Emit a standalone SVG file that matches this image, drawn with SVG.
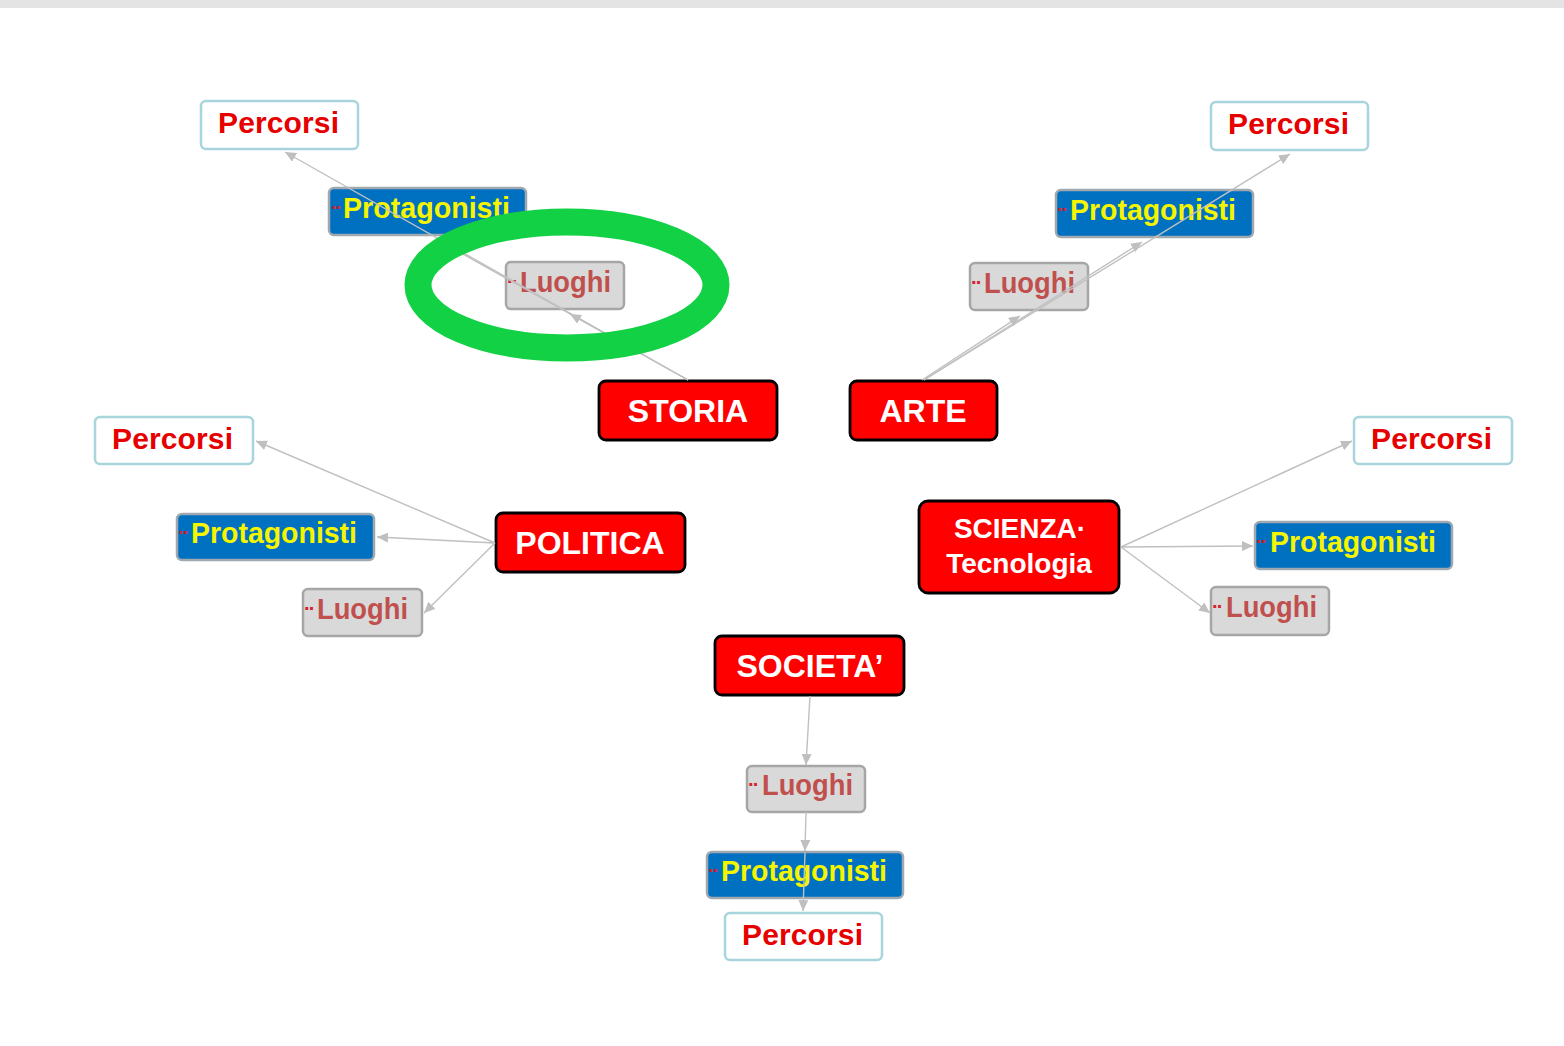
<svg xmlns="http://www.w3.org/2000/svg" width="1564" height="1046" viewBox="0 0 1564 1046">
<style>
.main rect{fill:#ff0000;stroke:#000;stroke-width:2.8}
.main text{font-family:"Liberation Sans",Arial,sans-serif;font-weight:bold;fill:#fff;text-anchor:middle}
.perc rect{fill:#fff;stroke:#a8d4dc;stroke-width:2.5}
.perc text{font-family:"Liberation Sans",Arial,sans-serif;font-weight:bold;fill:#e60000;font-size:30px}
.prot rect{fill:#0070c0;stroke:#a0a8b0;stroke-width:2.5}
.prot text.t{font-family:"Liberation Sans",Arial,sans-serif;font-weight:bold;fill:#f5f500;font-size:29px}
.luog rect{fill:#d9d9d9;stroke:#a6a6a6;stroke-width:2.5}
.luog text.t{font-family:"Liberation Sans",Arial,sans-serif;font-weight:bold;fill:#c0504d;font-size:29px}
text.d{font-family:"Liberation Sans",Arial,sans-serif;font-weight:bold;fill:#d8202e;font-size:20px;letter-spacing:-2px}
#connectors line{stroke:#c0c0c0;stroke-width:1.4;marker-end:url(#arr)}
</style>
<defs>
<marker id="arr" markerUnits="userSpaceOnUse" markerWidth="12" markerHeight="10" refX="11" refY="5" orient="auto">
<path d="M0,0 L11,5 L0,10 z" fill="#bfbfbf"/>
</marker>
</defs>
<rect x="0" y="0" width="1564" height="8" fill="#e4e4e4"/>

<!-- STORIA -->
<g id="storia" class="main"><rect x="599" y="381" width="178" height="59" rx="7"/><text x="688" y="422" font-size="32">STORIA</text></g>
<g id="storia-percorsi" class="perc"><rect x="201" y="101" width="157" height="48" rx="5"/><text x="218" y="133" textLength="121">Percorsi</text></g>
<g id="storia-protagonisti" class="prot"><rect x="329" y="188" width="197" height="47" rx="5"/><text class="d" x="331" y="214">··</text><text class="t" x="343" y="218" textLength="167" lengthAdjust="spacingAndGlyphs">Protagonisti</text></g>
<g id="storia-luoghi" class="luog"><rect x="506" y="262" width="118" height="47" rx="5"/><text class="d" x="507" y="288">··</text><text class="t" x="520" y="292" textLength="91" lengthAdjust="spacingAndGlyphs">Luoghi</text></g>

<!-- ARTE -->
<g id="arte" class="main"><rect x="850" y="381" width="147" height="59" rx="7"/><text x="923" y="422" font-size="32">ARTE</text></g>
<g id="arte-percorsi" class="perc"><rect x="1211" y="102" width="157" height="48" rx="5"/><text x="1228" y="134" textLength="121">Percorsi</text></g>
<g id="arte-protagonisti" class="prot"><rect x="1056" y="190" width="197" height="47" rx="5"/><text class="d" x="1057" y="216">··</text><text class="t" x="1070" y="220" textLength="166" lengthAdjust="spacingAndGlyphs">Protagonisti</text></g>
<g id="arte-luoghi" class="luog"><rect x="970" y="263" width="118" height="47" rx="5"/><text class="d" x="971" y="289">··</text><text class="t" x="984" y="293" textLength="91" lengthAdjust="spacingAndGlyphs">Luoghi</text></g>

<!-- POLITICA -->
<g id="politica" class="main"><rect x="496" y="513" width="189" height="59" rx="7"/><text x="590" y="554" font-size="32">POLITICA</text></g>
<g id="politica-percorsi" class="perc"><rect x="95" y="417" width="158" height="47" rx="5"/><text x="112" y="449" textLength="121">Percorsi</text></g>
<g id="politica-protagonisti" class="prot"><rect x="177" y="514" width="197" height="46" rx="5"/><text class="d" x="178" y="539">··</text><text class="t" x="191" y="543" textLength="166" lengthAdjust="spacingAndGlyphs">Protagonisti</text></g>
<g id="politica-luoghi" class="luog"><rect x="303" y="589" width="119" height="47" rx="5"/><text class="d" x="304" y="615">··</text><text class="t" x="317" y="619" textLength="91" lengthAdjust="spacingAndGlyphs">Luoghi</text></g>

<!-- SCIENZA -->
<g id="scienza" class="main"><rect x="919" y="501" width="200" height="92" rx="9"/><text x="1020" y="538" font-size="28">SCIENZA·</text><text x="1019" y="573" font-size="28">Tecnologia</text></g>
<g id="scienza-percorsi" class="perc"><rect x="1354" y="417" width="158" height="47" rx="5"/><text x="1371" y="449" textLength="121">Percorsi</text></g>
<g id="scienza-protagonisti" class="prot"><rect x="1255" y="522" width="197" height="47" rx="5"/><text class="d" x="1256" y="548">··</text><text class="t" x="1270" y="552" textLength="166" lengthAdjust="spacingAndGlyphs">Protagonisti</text></g>
<g id="scienza-luoghi" class="luog"><rect x="1211" y="587" width="118" height="48" rx="5"/><text class="d" x="1212" y="613">··</text><text class="t" x="1226" y="617" textLength="91" lengthAdjust="spacingAndGlyphs">Luoghi</text></g>

<!-- SOCIETA -->
<g id="societa" class="main"><rect x="715" y="636" width="189" height="59" rx="7"/><text x="810" y="677" font-size="32">SOCIETA’</text></g>
<g id="societa-luoghi" class="luog"><rect x="747" y="766" width="118" height="46" rx="5"/><text class="d" x="748" y="791">··</text><text class="t" x="762" y="795" textLength="91" lengthAdjust="spacingAndGlyphs">Luoghi</text></g>
<g id="societa-protagonisti" class="prot"><rect x="707" y="852" width="196" height="46" rx="5"/><text class="d" x="708" y="877">··</text><text class="t" x="721" y="881" textLength="166" lengthAdjust="spacingAndGlyphs">Protagonisti</text></g>
<g id="societa-percorsi" class="perc"><rect x="725" y="913" width="157" height="47" rx="5"/><text x="742" y="945" textLength="121">Percorsi</text></g>

<g id="connectors">
<line x1="688" y1="380" x2="285" y2="152"/>
<line x1="688" y1="380" x2="436" y2="239"/>
<line x1="688" y1="380" x2="570" y2="314"/>
<line x1="922" y1="380" x2="1020" y2="316"/>
<line x1="924" y1="380" x2="1142" y2="242"/>
<line x1="924" y1="380" x2="1290" y2="154"/>
<line x1="495" y1="543" x2="256" y2="441"/>
<line x1="495" y1="543" x2="377" y2="537"/>
<line x1="495" y1="543" x2="424" y2="613"/>
<line x1="1121" y1="547" x2="1352" y2="441"/>
<line x1="1121" y1="547" x2="1253" y2="546"/>
<line x1="1121" y1="547" x2="1210" y2="613"/>
<line x1="810" y1="696" x2="806" y2="765"/>
<line x1="806" y1="812" x2="805" y2="851"/>
<line x1="805" y1="853" x2="803" y2="911"/>
</g>

<g id="highlight"><ellipse cx="567" cy="285" rx="149" ry="63" fill="none" stroke="#12d145" stroke-width="27"/></g>
</svg>
